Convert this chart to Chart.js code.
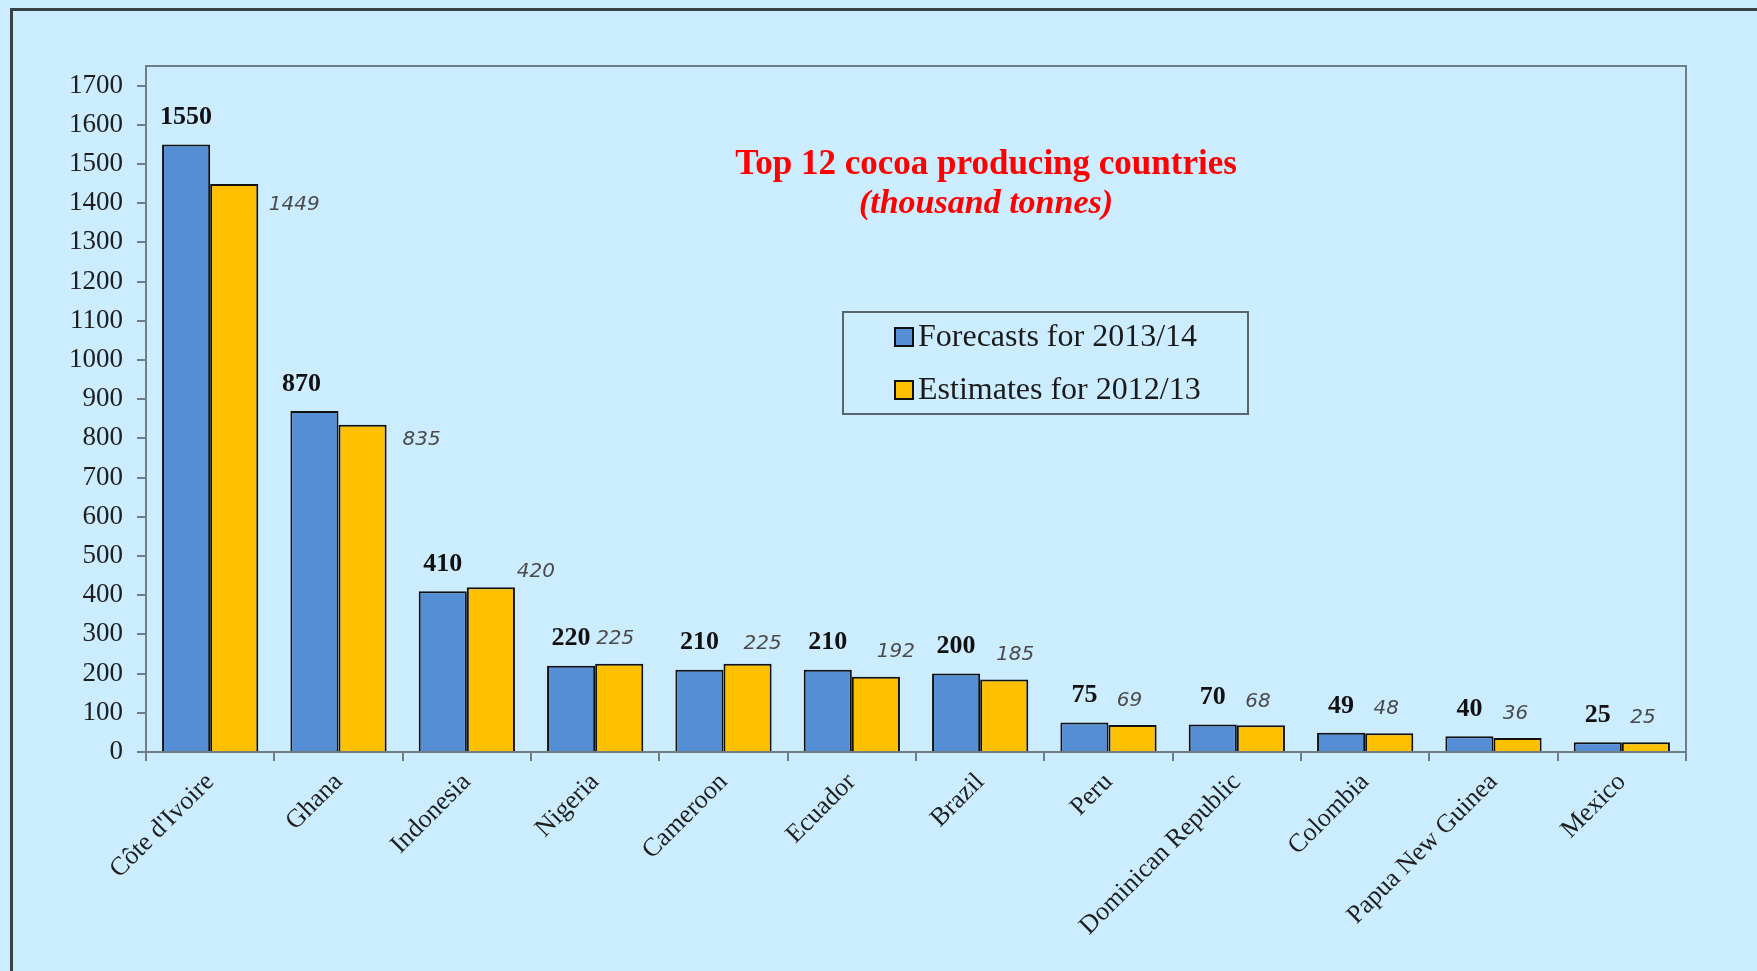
<!DOCTYPE html>
<html>
<head>
<meta charset="utf-8">
<title>Top 12 cocoa producing countries</title>
<script src="https://cdn.jsdelivr.net/npm/chart.js@4.4.1/dist/chart.umd.min.js"></script>
<style>
  html, body { margin: 0; padding: 0; overflow: hidden; background: #ccecff; }
  .frame { position: absolute; left: 10px; top: 8px; width: 2000px; height: 2000px; border: 3px solid #3b4246; }
  canvas { position: absolute; left: 0; top: 0; }
</style>
</head>
<body>
<div class="frame"></div>
<canvas id="chart" width="1757" height="971"></canvas>
<script>
const countries = ['Côte d\'Ivoire', 'Ghana', 'Indonesia', 'Nigeria', 'Cameroon', 'Ecuador',
    'Brazil', 'Peru', 'Dominican Republic', 'Colombia', 'Papua New Guinea', 'Mexico'];
const forecasts = [1550, 870, 410, 220, 210, 210, 200, 75, 70, 49, 40, 25];
const estimates = [1449, 835, 420, 225, 225, 192, 185, 69, 68, 48, 36, 25];
const seriesNames = ['Forecasts for 2013/14', 'Estimates for 2012/13'];
const yMax = 1750;
const yStep = 100;

// the italic labels were dragged by hand in the original, so nudge them from the bar top
const estimateLabelNudge = [[60, 21], [59, 15], [45, -16], [-4, -25], [15, -20], [20, -25],
    [11, -25], [-3, -24], [-3, -24], [-3, -24], [-2, -24], [-3, -24]];

const serif = '"Liberation Serif", "Times New Roman", serif';
const blue = '#558ed5';
const yellow = '#ffc000';
const axisGrey = '#6f7d86';

const plotFrame = {
    id: 'plotFrame',
    afterDraw(chart) {
        const { ctx, chartArea: a } = chart;
        ctx.save();
        ctx.strokeStyle = axisGrey;
        ctx.lineWidth = 2;
        ctx.beginPath();
        ctx.moveTo(a.left, a.top);
        ctx.lineTo(a.right, a.top);
        ctx.lineTo(a.right, a.bottom);
        ctx.stroke();
        ctx.restore();
    }
};

const valueLabels = {
    id: 'valueLabels',
    afterDatasetsDraw(chart) {
        const ctx = chart.ctx;
        ctx.save();
        ctx.textAlign = 'center';
        ctx.textBaseline = 'middle';

        ctx.font = 'bold 26px ' + serif;
        ctx.fillStyle = '#111';
        chart.getDatasetMeta(0).data.forEach((bar, i) => {
            const dx = i === 1 ? -13 : 0; // Ghana's label sits a bit left in the original
            ctx.fillText(forecasts[i], bar.x + dx, bar.y - 27);
        });

        ctx.font = 'italic 20px "DejaVu Sans", sans-serif';
        ctx.fillStyle = '#4a4a4a';
        chart.getDatasetMeta(1).data.forEach((bar, i) => {
            const [dx, dy] = estimateLabelNudge[i];
            ctx.fillText(estimates[i], bar.x + dx, bar.y + dy);
        });
        ctx.restore();
    }
};

const titleAndLegend = {
    id: 'titleAndLegend',
    afterDraw(chart) {
        const ctx = chart.ctx;
        ctx.save();
        ctx.fillStyle = '#ff0000';
        ctx.textAlign = 'center';
        ctx.textBaseline = 'middle';
        ctx.font = 'bold 35px ' + serif;
        ctx.fillText('Top 12 cocoa producing countries', 986, 165);
        ctx.font = 'italic bold 34px ' + serif;
        ctx.fillText('(thousand tonnes)', 986, 204);

        // legend box
        ctx.strokeStyle = '#5b666c';
        ctx.lineWidth = 2;
        ctx.strokeRect(843, 312, 405, 102);
        ctx.textAlign = 'left';
        ctx.font = '32px ' + serif;
        chart.data.datasets.forEach((ds, i) => {
            const y = 337 + i * 53;
            ctx.fillStyle = ds.backgroundColor;
            ctx.fillRect(895, y - 9, 18, 18);
            ctx.strokeStyle = '#111';
            ctx.strokeRect(895, y - 9, 18, 18);
            ctx.fillStyle = '#1a1a1a';
            ctx.fillText(ds.label, 918, y + 1);
        });
        ctx.restore();
    }
};

new Chart(document.getElementById('chart'), {
    type: 'bar',
    data: {
        labels: countries,
        datasets: [
            {
                label: seriesNames[0],
                data: forecasts,
                backgroundColor: blue,
                borderColor: '#111',
                borderWidth: 2
            },
            {
                label: seriesNames[1],
                data: estimates,
                backgroundColor: yellow,
                borderColor: '#111',
                borderWidth: 2
            }
        ]
    },
    options: {
        responsive: false,
        animation: false,
        devicePixelRatio: 1,
        categoryPercentage: 0.75,
        barPercentage: 1.0,
        layout: {
            padding: { left: 0, top: 66, right: 71, bottom: 0 }
        },
        plugins: {
            legend: { display: false },
            tooltip: { enabled: false }
        },
        scales: {
            x: {
                afterFit(scale) { scale.height = 219; },
                border: { color: axisGrey, width: 2 },
                grid: {
                    drawOnChartArea: false,
                    color: axisGrey,
                    lineWidth: 2,
                    tickLength: 9
                },
                ticks: {
                    autoSkip: false,
                    minRotation: 45,
                    maxRotation: 45,
                    padding: 6,
                    color: '#1e1e1e',
                    font: { family: serif, size: 26 }
                }
            },
            y: {
                min: 0,
                max: yMax,
                afterFit(scale) { scale.width = 146; },
                border: { color: axisGrey, width: 2 },
                grid: {
                    drawOnChartArea: false,
                    color: axisGrey,
                    lineWidth: 2,
                    tickLength: 9
                },
                ticks: {
                    stepSize: yStep,
                    includeBounds: false,
                    padding: 14,
                    color: '#1e1e1e',
                    font: { family: serif, size: 27 },
                    callback: (value) => String(value)
                }
            }
        }
    },
    plugins: [plotFrame, valueLabels, titleAndLegend]
});
</script>
</body>
</html>
